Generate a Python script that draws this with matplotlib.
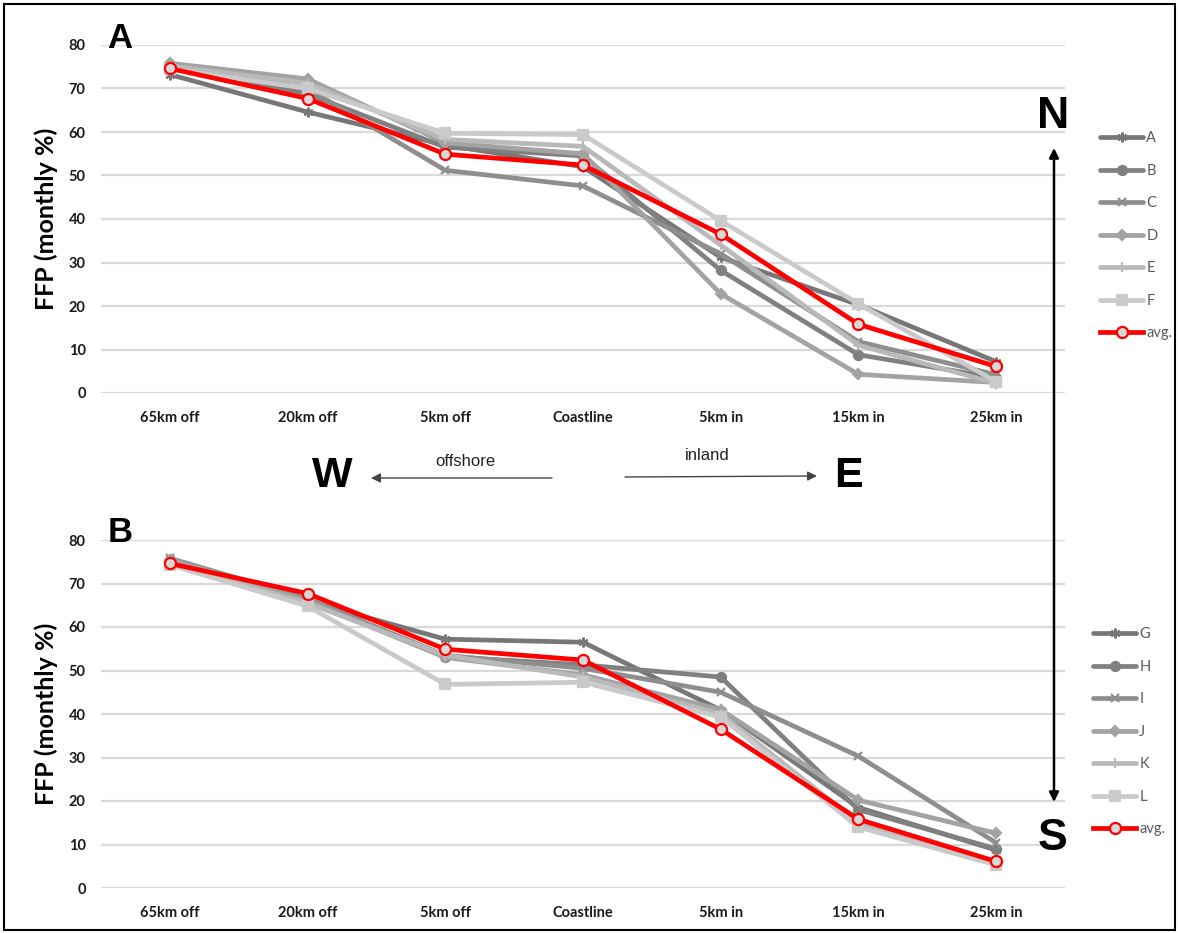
import matplotlib
matplotlib.use("Agg")
import matplotlib.pyplot as plt
from matplotlib.patches import FancyArrowPatch, Rectangle

W_PX, H_PX = 1178, 933

categories = ["65km off", "20km off", "5km off", "Coastline", "5km in", "15km in", "25km in"]
yticks = [0, 10, 20, 30, 40, 50, 60, 70, 80]

# Panel A (north)
A = [73.2, 64.6, 57.0, 52.0, 31.2, 20.3, 7.2]
B = [75.0, 68.8, 56.5, 54.5, 28.2, 8.8, 3.5]
C = [75.3, 70.0, 51.2, 47.6, 32.0, 11.8, 4.2]
D = [75.8, 72.2, 57.5, 55.0, 22.8, 4.3, 2.4]
E = [75.2, 71.2, 58.3, 56.7, 34.0, 11.0, 2.2]
F = [74.5, 70.0, 59.7, 59.4, 39.6, 20.5, 2.6]
avg_A = [74.6, 67.7, 54.9, 52.4, 36.5, 15.8, 6.1]

# Panel B (south)
G = [75.7, 66.0, 57.2, 56.5, 40.9, 18.5, 8.7]
H = [75.0, 66.0, 53.2, 51.3, 48.5, 18.0, 9.0]
I = [75.8, 66.5, 53.5, 50.5, 45.0, 30.3, 10.4]
J = [75.5, 66.0, 53.0, 49.0, 41.0, 20.2, 12.6]
K = [74.5, 65.5, 53.5, 48.5, 40.0, 15.0, 5.5]
L = [74.3, 64.8, 46.8, 47.3, 39.3, 14.0, 5.3]
avg_B = [74.6, 67.7, 54.9, 52.4, 36.5, 15.8, 6.1]

top_names = ["A", "B", "C", "D", "E", "F"]
top_series = [A, B, C, D, E, F]
bot_names = ["G", "H", "I", "J", "K", "L"]
bot_series = [G, H, I, J, K, L]

grays = ["#777777", "#808080", "#8e8e8e", "#a3a3a3", "#b9b9b9", "#cacaca"]
markers = [(6, 2, 0), "o", "x", "D", "|", "s"]
msizes = [7, 6.5, 6, 5, 7, 6.5]

LATO = ["Lato", "DejaVu Sans"]
ARIAL = ["Liberation Sans", "DejaVu Sans"]


def fx(px):
    return px / W_PX


def fy(py):
    return 1 - py / H_PX


fig = plt.figure(figsize=(W_PX / 100, H_PX / 100), dpi=100)
fig.patch.set_facecolor("white")


def make_panel(top_px, bot_px, names, series, avg, letter, leg_x, leg_top):
    ax = fig.add_axes([fx(101), fy(bot_px), fx(1065) - fx(101), fy(top_px) - fy(bot_px)])
    x = list(range(len(categories)))
    for name, vals, col, mk, ms in zip(names, series, grays, markers, msizes):
        ax.plot(x, vals, color=col, lw=3.4, marker=mk, ms=ms, mfc=col, mec=col,
                mew=1.6, label=name, solid_capstyle="round", solid_joinstyle="round")
    ax.plot(x, avg, color="#ff0000", lw=3.4, marker="o", ms=8, mfc="#d9d9d9",
            mec="#ff0000", mew=1.6, label="avg.", zorder=5)
    ax.set_xlim(-0.5, 6.5)
    ax.set_ylim(0, 80)
    ax.set_yticks(yticks)
    ax.set_xticks(x)
    ax.set_xticklabels(categories)
    for s in ax.spines.values():
        s.set_visible(False)
    ax.grid(axis="y", color="#d9d9d9", lw=1.6)
    ax.set_axisbelow(True)
    ax.tick_params(axis="both", length=0)
    ax.tick_params(axis="x", pad=13)
    ax.tick_params(axis="y", pad=11)
    for lab in ax.get_xticklabels() + ax.get_yticklabels():
        lab.set_fontfamily(LATO)
        lab.set_fontweight("bold")
        lab.set_fontsize(10.5)
        lab.set_color("#1a1a1a")
    # panel letter
    fig.text(fx(120), fy(top_px - 7), letter, fontsize=25, fontweight="bold",
             family=ARIAL, ha="center", va="center", color="black")
    # y label
    fig.text(fx(46), fy((top_px + bot_px) / 2), "FFP (monthly %)", rotation=90,
             fontsize=18, fontweight="bold", family=LATO, ha="center", va="center",
             color="black")
    leg = ax.legend(loc="upper left", bbox_to_anchor=(fx(leg_x), fy(leg_top)),
                    bbox_transform=fig.transFigure, frameon=False, borderpad=0,
                    handlelength=2.95, handletextpad=0.2, labelspacing=1.27,
                    prop={"family": LATO, "size": 10.5})
    for t in leg.get_texts():
        t.set_color("#595959")
    return ax


make_panel(45, 393, top_names, top_series, avg_A, "A", 1093, 124)
make_panel(540, 888, bot_names, bot_series, avg_B, "B", 1086, 620)

# Compass letters
fig.text(fx(332), fy(476), "W", fontsize=31, fontweight="bold", family=ARIAL,
         ha="center", va="center")
fig.text(fx(848), fy(476), "E", fontsize=31, fontweight="bold", family=ARIAL,
         ha="center", va="center")
fig.text(fx(1053), fy(117), "N", fontsize=32, fontweight="bold", family=ARIAL,
         ha="center", va="center")
fig.text(fx(1053), fy(839), "S", fontsize=32, fontweight="bold", family=ARIAL,
         ha="center", va="center")
fig.text(fx(465), fy(462), "offshore", fontsize=12, family=ARIAL,
         ha="center", va="center", color="#222222")
fig.text(fx(707), fy(456), "inland", fontsize=12, family=ARIAL,
         ha="center", va="center", color="#222222")

arrows = [
    ((552, 478), (371, 478), "-|>", 1.0, "#444444"),
    ((625, 477), (817, 476), "-|>", 1.0, "#444444"),
    ((1054, 802), (1054, 148), "<|-|>", 1.8, "black"),
]
for (x0, y0), (x1, y1), style, lw, col in arrows:
    arr = FancyArrowPatch((fx(x0), fy(y0)), (fx(x1), fy(y1)), transform=fig.transFigure,
                          arrowstyle=style, mutation_scale=14, lw=lw, color=col,
                          shrinkA=0, shrinkB=0)
    fig.add_artist(arr)

# outer frame
fig.add_artist(Rectangle((fx(4), fy(930)), fx(1175) - fx(4), fy(4) - fy(930),
                         transform=fig.transFigure, fill=False, ec="black", lw=1.5))

fig.savefig("out.png", dpi=100)
